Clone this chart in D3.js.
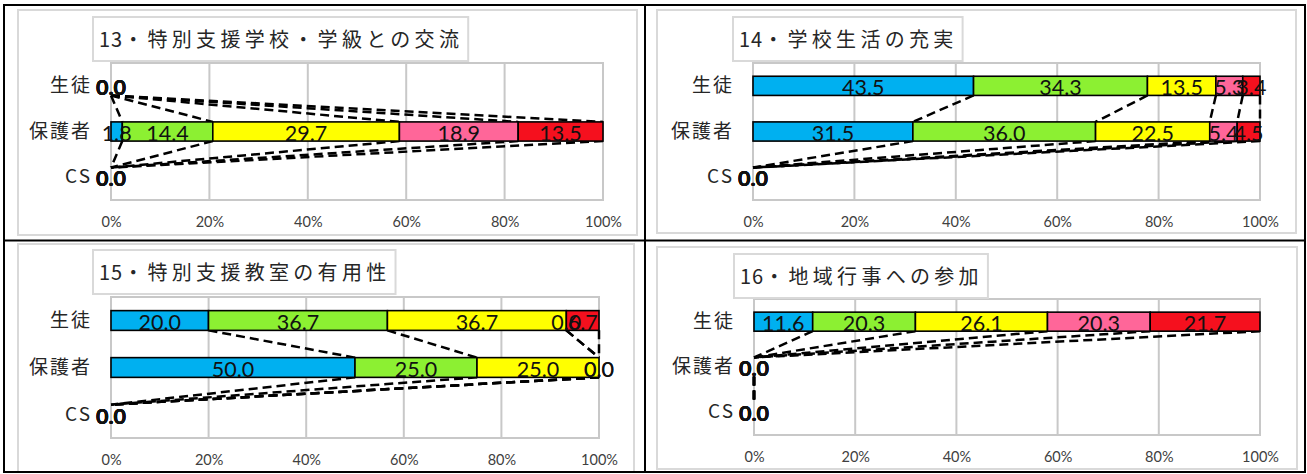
<!DOCTYPE html>
<html><head><meta charset="utf-8">
<script src="https://cdn.jsdelivr.net/npm/d3@7"></script>
<style>html,body{margin:0;padding:0;background:#fff;} svg{display:block;}</style>
</head><body>
<svg id="c" width="1307" height="474"></svg>
<script>
// ---- data ----
const categories = ["生徒", "保護者", "CS"];
const seriesKeys = ["s1", "s2", "s3", "s4", "s5"];
const seriesColors = ["#00B0F0", "#8CF032", "#FFFF00", "#FF6699", "#F5101E"];
const tickLabels = ["0%", "20%", "40%", "60%", "80%", "100%"];
const titles = ["13・特別支援学校・学級との交流", "14・学校生活の充実", "15・特別支援教室の有用性", "16・地域行事への参加"];
const q13 = [[0, 0, 0, 0, 0], [1.8, 14.4, 29.7, 18.9, 13.5], [0, 0, 0, 0, 0]];
const q14 = [[43.5, 34.3, 13.5, 5.3, 3.4], [31.5, 36.0, 22.5, 5.4, 4.5], [0, 0, 0, 0, 0]];
const q15 = [[20.0, 36.7, 36.7, 0.0, 6.7], [50.0, 25.0, 25.0, 0.0, 0.0], [0, 0, 0, 0, 0]];
const q16 = [[11.6, 20.3, 26.1, 20.3, 21.7], [0, 0, 0, 0, 0], [0, 0, 0, 0, 0]];
const panelValues = [q13, q14, q15, q16];

// ---- layout ----
const layouts = [
  {area: {x: 18, y: 10, w: 619, h: 225}, plot: {x: 111, y: 63, w: 492, h: 137}, tx: 93, ty: 17},
  {area: {x: 657, y: 10, w: 639, h: 223}, plot: {x: 753, y: 63, w: 507, h: 137}, tx: 733, ty: 17},
  {area: {x: 18, y: 244, w: 616, h: 228}, plot: {x: 111, y: 297, w: 488, h: 141}, tx: 93, ty: 250},
  {area: {x: 657, y: 247, w: 640, h: 222}, plot: {x: 754, y: 299, w: 506, h: 136}, tx: 734, ty: 254}
];

const svg = d3.select("#c");
svg.append("rect").attr("width", 1307).attr("height", 474).attr("fill", "#fff");

const fmt = d3.format(".1f");
const CJK = "'Noto Sans CJK JP', 'Noto Sans', sans-serif";
const LAT = "Lato, 'Liberation Sans', sans-serif";

layouts.forEach((L, pi) => {
  const g = svg.append("g");
  g.append("rect").attr("x", L.area.x).attr("y", L.area.y).attr("width", L.area.w).attr("height", L.area.h)
    .attr("fill", "#fff").attr("stroke", "#d9d9d9").attr("stroke-width", 2);

  const vals = panelValues[pi];
  const rows = categories.map((c, i) => {
    const o = {cat: c};
    seriesKeys.forEach((k, j) => o[k] = vals[i][j]);
    return o;
  });
  const stacked = d3.stack().keys(seriesKeys).offset(d3.stackOffsetExpand)(rows);

  const x = d3.scaleLinear().domain([0, 1]).range([L.plot.x, L.plot.x + L.plot.w]);
  const y = d3.scaleBand().domain(categories).range([L.plot.y, L.plot.y + L.plot.h])
    .paddingInner(0.58).paddingOuter(0.29);
  const bw = y.bandwidth();
  const tv = x.ticks(5);

  // plot grid
  const grid = g.append("g").attr("stroke", "#c8c8c8").attr("stroke-width", 2);
  grid.selectAll("line.v").data(tv).join("line")
    .attr("x1", d => x(d)).attr("x2", d => x(d)).attr("y1", L.plot.y).attr("y2", L.plot.y + L.plot.h);
  grid.selectAll("line.h").data([L.plot.y, L.plot.y + L.plot.h]).join("line").attr("class", "h")
    .attr("x1", x(0) - 1).attr("x2", x(1) + 1).attr("y1", d => d).attr("y2", d => d);

  // x axis labels
  const axis = d3.axisBottom(x).tickValues(tv).tickFormat((d, i) => tickLabels[i]).tickSize(0).tickPadding(0);
  const ag = g.append("g").attr("transform", `translate(0,${L.plot.y + L.plot.h + 27})`).call(axis);
  ag.select(".domain").remove();
  ag.selectAll("text").attr("dy", 0).attr("font-family", LAT).attr("font-size", 14.5).attr("fill", "#404040");

  // category labels
  g.selectAll("text.cat").data(categories).join("text").attr("class", "cat")
    .attr("x", L.plot.x - 21 + 2).attr("y", d => y(d) + bw / 2 + 6)
    .attr("text-anchor", "end").attr("font-family", CJK).attr("font-size", 19)
    .attr("letter-spacing", 2).attr("fill", "#262626").text(d => d);

  // series lines
  const sl = [];
  stacked.forEach((s, si) => {
    for (let i = 0; i < categories.length - 1; i++) {
      sl.push({x1: x(s[i][1]), y1: y(categories[i]) + bw, x2: x(s[i + 1][1]), y2: y(categories[i + 1])});
    }
  });
  g.append("g").selectAll("line").data(sl).join("line")
    .attr("x1", d => d.x1).attr("y1", d => d.y1).attr("x2", d => d.x2).attr("y2", d => d.y2)
    .attr("stroke", "#000").attr("stroke-width", 2.5).attr("stroke-dasharray", "9,5");

  // bars
  stacked.forEach((s, si) => {
    g.append("g").selectAll("rect").data(s.filter(d => d[1] - d[0] > 0)).join("rect")
      .attr("x", d => x(d[0])).attr("width", d => x(d[1]) - x(d[0]))
      .attr("y", d => y(d.data.cat)).attr("height", bw)
      .attr("fill", seriesColors[si]).attr("stroke", "#000").attr("stroke-width", 1.6);
  });

  // data labels
  const labs = [];
  stacked.forEach((s, si) => {
    s.forEach((d, ci) => {
      labs.push({x: x((d[0] + d[1]) / 2), y: y(d.data.cat) + bw - 0.5, v: vals[ci][si], cat: d.data.cat});
    });
  });
  const counts = d3.rollup(labs, v => v.length, d => d.cat + "|" + Math.round(d.x));
  g.append("g").selectAll("text").data(labs).join("text")
    .attr("x", d => d.x).attr("y", d => d.y).attr("text-anchor", "middle")
    .attr("font-family", LAT).attr("font-size", 21.5).attr("fill", "#111")
    .attr("font-weight", d => counts.get(d.cat + "|" + Math.round(d.x)) >= 3 ? 700 : 400)
    .text(d => fmt(d.v));

  // title
  const tg = g.append("g");
  const box = tg.append("rect");
  const m = titles[pi].match(/^(\d+)(.*)$/);
  const tt = tg.append("text").attr("x", L.tx + 6).attr("y", L.ty + 22 + 8)
    .attr("font-family", CJK).attr("font-size", 20).attr("fill", "#262626");
  tt.append("tspan").attr("letter-spacing", 1).text(m[1]);
  tt.append("tspan").attr("letter-spacing", 4.3).text(m[2]);
  const bb = tt.node().getBBox();
  box.attr("x", L.tx).attr("y", L.ty).attr("width", bb.width + 11).attr("height", 44)
    .attr("fill", "#fff").attr("stroke", "#d9d9d9").attr("stroke-width", 2);
});

// outer frame and dividers
svg.append("rect").attr("x", 4).attr("y", 5).attr("width", 1301).attr("height", 467)
  .attr("fill", "none").attr("stroke", "#000").attr("stroke-width", 2);
svg.append("line").attr("x1", 645).attr("x2", 645).attr("y1", 5).attr("y2", 472).attr("stroke", "#000").attr("stroke-width", 2);
svg.append("line").attr("x1", 4).attr("x2", 1305).attr("y1", 240.5).attr("y2", 240.5).attr("stroke", "#000").attr("stroke-width", 2);
</script>
</body></html>
